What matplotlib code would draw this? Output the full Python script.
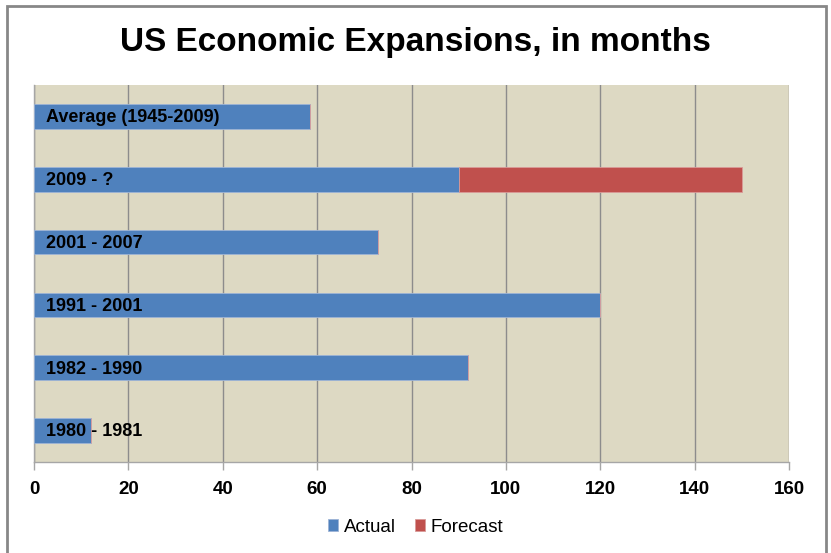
import matplotlib.pyplot as plt
from matplotlib.patches import Rectangle

# Data (months).
periods = ["1980 - 1981", "1982 - 1990", "1991 - 2001", "2001 - 2007", "2009 - ?", "Average (1945-2009)"]
actual = [12, 92, 120, 73, 90, 58.5]
forecast = [0, 0, 0, 0, 60, 0]
x_ticks = [0, 20, 40, 60, 80, 100, 120, 140, 160]

blue = "#4F81BD"
red = "#C0504D"
plt.rcParams['font.family'] = ['Liberation Sans', 'DejaVu Sans']

fig = plt.figure(figsize=(8.31, 5.53), dpi=100)
ax = fig.add_axes([34 / 831, 1 - 462 / 553, (789 - 34) / 831, (462 - 85) / 553])
ax.set_facecolor("#DDD9C3")

ypos = list(range(len(periods)))
ax.barh(ypos, actual, height=0.39, color=blue, edgecolor="#9DB4D6", linewidth=0.6,
        label="Actual", zorder=3)
ax.barh(ypos, forecast, left=actual, height=0.39, color=red, edgecolor="#D99A98",
        linewidth=0.6, label="Forecast", zorder=3)

# Category names drawn inside the bars.
for y, name in zip(ypos, periods):
    ax.text(2.5, y - 0.02, name, ha="left", va="center", fontsize=13, fontweight="bold",
            color="black", zorder=4)

ax.set_xlim(0, 160)
ax.set_ylim(-0.5, len(periods) - 0.5)
ax.set_xticks(x_ticks)
ax.set_yticks([])
ax.grid(axis="x", color="#8C8C8C", linewidth=1.0, zorder=1)
for s in ["top", "right"]:
    ax.spines[s].set_visible(False)
for s in ["left", "bottom"]:
    ax.spines[s].set_color("#A6A6A6")
    ax.spines[s].set_linewidth(1.0)
ax.tick_params(axis="x", length=6, width=1.0, color="#A6A6A6", pad=8,
               labelsize=13.5)
for lbl in ax.get_xticklabels():
    lbl.set_fontweight("bold")

fig.text(0.5, 1 - 43 / 553, "US Economic Expansions, in months", ha="center", va="center",
         fontsize=24, fontweight="bold")

fig.legend(loc="center", bbox_to_anchor=(0.5, 1 - 527 / 553), ncol=2, frameon=False,
           fontsize=13.5, handlelength=0.55, handleheight=0.55, handletextpad=0.3,
           columnspacing=1.0)

# Outer chart border.
fig.patches.append(Rectangle((7 / 831, -0.05), (826 - 7) / 831, 1.05 - 6 / 553,
                             transform=fig.transFigure, fill=False,
                             edgecolor="#878787", linewidth=2.0))

fig.savefig("out.png", dpi=100)
